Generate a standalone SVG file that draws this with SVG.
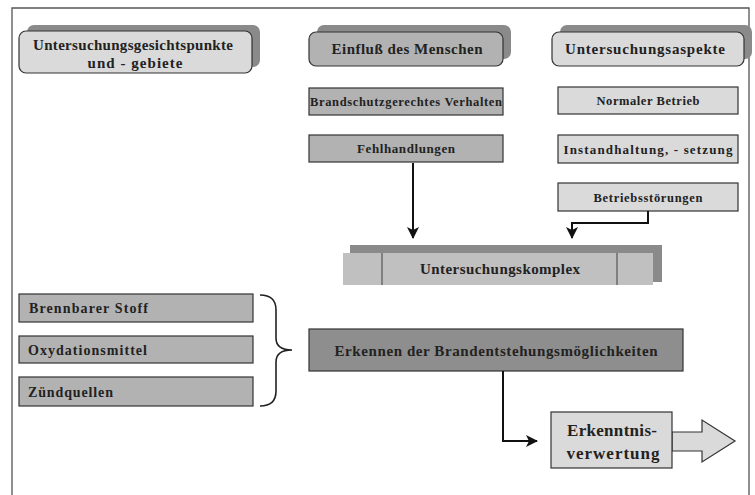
<svg xmlns="http://www.w3.org/2000/svg" width="755" height="495" viewBox="0 0 755 495">
  <defs>
    <style>
      .t { font-family: "Liberation Serif", "Times New Roman", serif; font-weight: bold; fill: #222; text-anchor: middle; }
      .tl { text-anchor: start; }
      .box { stroke: #333; stroke-width: 1.2; }
      .light { fill: #dadada; }
      .mid { fill: #b2b2b2; }
      .dark { fill: #8e8e8e; }
      .shadow { fill: #8a8a8a; }
      .conn { fill: none; stroke: #111; stroke-width: 2; }
    </style>
    <marker id="arrow" viewBox="0 0 12 12" refX="11" refY="6" markerWidth="12" markerHeight="12" markerUnits="userSpaceOnUse" orient="auto">
      <path d="M0,0 L12,6 L0,12 L3,6 Z" fill="#111"/>
    </marker>
  </defs>

  <!-- outer frame -->
  <path d="M12,495 V8 H749 V495" fill="none" stroke="#555" stroke-width="1.3"/>

  <!-- header: Untersuchungsgesichtspunkte -->
  <g id="node-gesichtspunkte">
    <rect class="shadow" x="27" y="25" width="233" height="42" rx="7"/>
    <rect class="box light" x="19" y="31" width="233" height="42" rx="7"/>
    <text class="t" x="133" y="50" font-size="15" textLength="200" lengthAdjust="spacing">Untersuchungsgesichtspunkte</text>
    <text class="t" x="135" y="68" font-size="15" textLength="95" lengthAdjust="spacing">und - gebiete</text>
  </g>

  <!-- header: Einfluß des Menschen -->
  <g id="node-mensch">
    <rect class="shadow" x="317" y="25" width="194" height="34" rx="7"/>
    <rect class="box mid" x="309" y="32" width="194" height="34" rx="7"/>
    <text class="t" x="407" y="54" font-size="15" textLength="151" lengthAdjust="spacing">Einfluß des Menschen</text>
  </g>

  <!-- header: Untersuchungsaspekte -->
  <g id="node-aspekte">
    <rect class="shadow" x="560" y="25" width="192" height="34" rx="7"/>
    <rect class="box light" x="552" y="32" width="192" height="34" rx="7"/>
    <text class="t" x="645" y="54" font-size="15" textLength="160" lengthAdjust="spacing">Untersuchungsaspekte</text>
  </g>

  <g id="node-brandschutz">
    <rect class="box mid" x="309" y="88" width="194" height="27"/>
    <text class="t" x="406" y="106" font-size="12.5" textLength="192" lengthAdjust="spacing">Brandschutzgerechtes Verhalten</text>
  </g>

  <g id="node-fehlhandlungen">
    <rect class="box mid" x="309" y="135" width="194" height="27"/>
    <text class="t" x="406" y="153" font-size="13" textLength="98" lengthAdjust="spacing">Fehlhandlungen</text>
  </g>

  <g id="node-normal">
    <rect class="box light" x="558" y="87" width="180" height="27"/>
    <text class="t" x="648" y="105" font-size="12.5" textLength="103" lengthAdjust="spacing">Normaler Betrieb</text>
  </g>

  <g id="node-instand">
    <rect class="box light" x="558" y="135" width="180" height="28"/>
    <text class="t" x="648" y="154" font-size="13" textLength="169" lengthAdjust="spacing">Instandhaltung, - setzung</text>
  </g>

  <g id="node-stoerungen">
    <rect class="box light" x="558" y="183" width="180" height="28"/>
    <text class="t" x="648" y="202" font-size="12.5" textLength="109" lengthAdjust="spacing">Betriebsstörungen</text>
  </g>

  <!-- Untersuchungskomplex: three-part bar with shadow -->
  <g id="node-komplex">
    <rect class="shadow" x="350" y="245" width="312" height="37"/>
    <rect x="343" y="253" width="310" height="32" fill="#c0c0c0"/>
    <path d="M382,253 V285 M617,253 V285" stroke="#555" stroke-width="1.2"/>
    <text class="t" x="500" y="274" font-size="15" textLength="160" lengthAdjust="spacing">Untersuchungskomplex</text>
  </g>

  <g id="node-stoff">
    <rect class="box mid" x="19" y="294" width="234" height="28"/>
    <text class="t tl" x="29" y="313" font-size="14" textLength="119" lengthAdjust="spacing">Brennbarer Stoff</text>
  </g>

  <g id="node-oxydation">
    <rect class="box mid" x="19" y="336" width="234" height="27"/>
    <text class="t tl" x="28" y="355" font-size="14" textLength="119" lengthAdjust="spacing">Oxydationsmittel</text>
  </g>

  <g id="node-zuend">
    <rect class="box mid" x="19" y="377" width="234" height="29"/>
    <text class="t tl" x="28" y="397" font-size="14" textLength="85" lengthAdjust="spacing">Zündquellen</text>
  </g>

  <!-- curly brace grouping the three inputs -->
  <g id="brace">
    <path d="M260,295 Q276,295 276,310 V338 Q276,350 292,350 Q276,350 276,362 V391 Q276,406 260,406" fill="none" stroke="#222" stroke-width="1.6"/>
  </g>

  <g id="node-erkennen">
    <rect class="box dark" x="309" y="329" width="374" height="42"/>
    <text class="t" x="496" y="356" font-size="15" textLength="323" lengthAdjust="spacing">Erkennen der Brandentstehungsmöglichkeiten</text>
  </g>

  <g id="node-verwertung">
    <polygon class="box light" points="672,432 702,432 702,420 735,441 702,462 702,451 672,451"/>
    <rect class="box light" x="551" y="412" width="121" height="56"/>
    <text class="t" x="612" y="436" font-size="17" textLength="90" lengthAdjust="spacing">Erkenntnis-</text>
    <text class="t" x="613" y="459" font-size="17" textLength="93" lengthAdjust="spacing">verwertung</text>
  </g>

  <g id="connectors">
    <path class="conn" d="M413,163 V238" marker-end="url(#arrow)"/>
    <path class="conn" d="M648,211 V223 H572 V238" marker-end="url(#arrow)"/>
    <path class="conn" d="M503,371 V441 H537" marker-end="url(#arrow)"/>
  </g>
</svg>
